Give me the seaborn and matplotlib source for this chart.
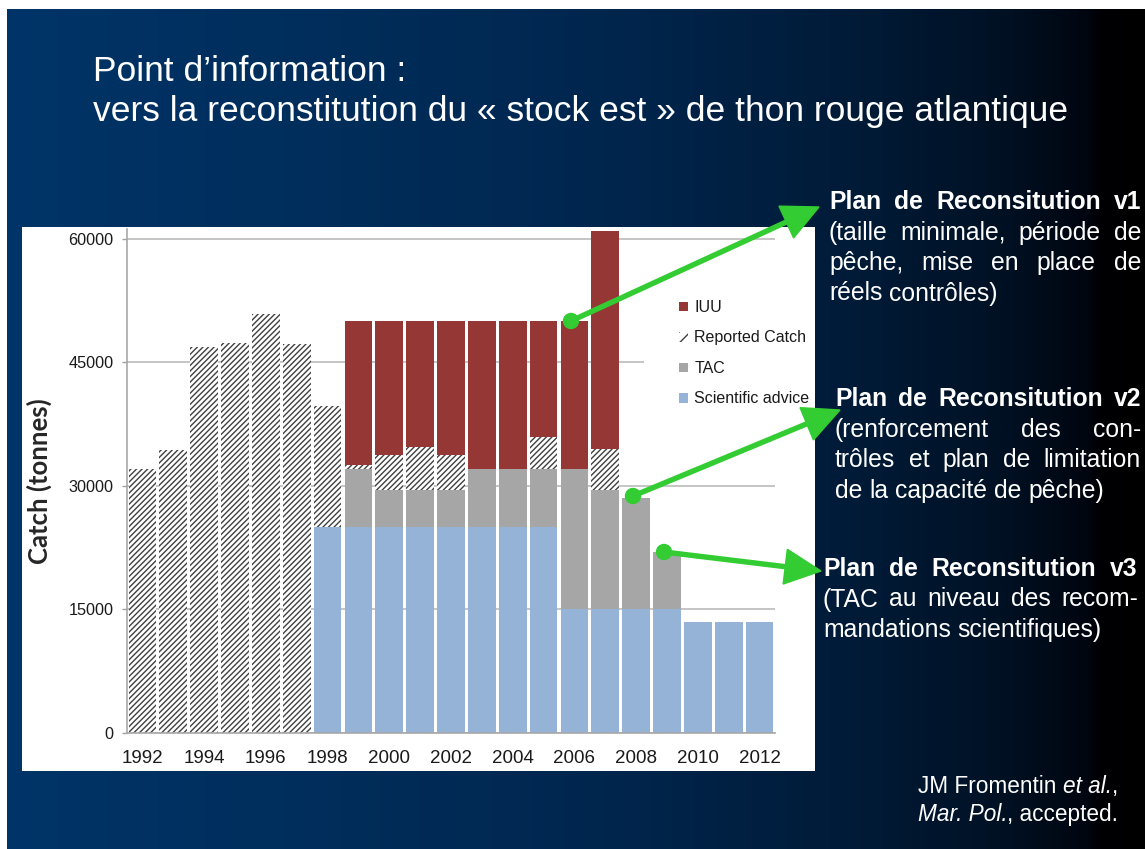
import numpy as np
import pandas as pd
import matplotlib
matplotlib.use("Agg")
import matplotlib.pyplot as plt
import seaborn as sns
from matplotlib.patches import Patch, Rectangle, Circle, Polygon

# ---- data (tonnes) ----
nan = np.nan
years = list(range(1992, 2013))
# top of each coloured layer; layers are drawn tallest first so they stack visually
sci_advice = [nan] * 6 + [25000] * 8 + [15000] * 4 + [13500] * 3
tac = [nan] * 7 + [32000, 29500, 29500, 29500, 32000, 32000, 32000, 32000, 29500, 28500, 22000] + [nan] * 3
reported = [32000, 34400, 46900, 47300, 50900, 47200, 39700, 32500, 33800, 34700, 33800,
            nan, nan, 36000, nan, 34500, nan, nan, nan, nan, nan]
with_iuu = [nan] * 7 + [50000] * 8 + [61000] + [nan] * 5

legend_labels = ["IUU", "Reported Catch", "TAC", "Scientific advice"]

RED = "#953735"
GRAY = "#a6a6a6"
BLUE = "#95b3d7"
HATCH = "#404040"
GREEN = "#33cc33"

sns.set_style("white")
plt.rcParams["font.family"] = ["Liberation Sans", "DejaVu Sans"]
plt.rcParams["hatch.linewidth"] = 1.0

W, H = 1145, 849
fig = plt.figure(figsize=(W / 100, H / 100), dpi=100, facecolor="white")

# ---- slide background: horizontal blue -> black gradient, white chart box ----
bg = fig.add_axes([0, 0, 1, 1], zorder=-10)
stops_x = [0, 300, 600, 850, 1000, 1085, 1100, 1145]
stops_c = np.array([[0, 52, 104], [0, 46, 92], [0, 38, 78], [0, 27, 56],
                    [0, 17, 36], [0, 6, 16], [0, 0, 4], [0, 0, 0]]) / 255
xs = np.arange(W)
grad = np.stack([np.interp(xs, stops_x, stops_c[:, k]) for k in range(3)], axis=-1)
bg.imshow(grad[None, :, :], extent=[7, W, H, 9], aspect="auto", interpolation="bilinear")
bg.add_patch(Rectangle((22, 227), 793, 544, facecolor="white", edgecolor="none"))
bg.set_xlim(0, W)
bg.set_ylim(H, 0)
bg.axis("off")

# ---- chart ----
ax = fig.add_axes([127 / W, 1 - 733 / H, 648 / W, (733 - 229) / H])
df = pd.DataFrame({"year": [str(y) for y in years], "iuu": with_iuu, "rep": reported,
                   "tac": tac, "sci": sci_advice})
order = df["year"].tolist()

layers = [("iuu", RED, None), ("rep", "white", "//////"), ("tac", GRAY, None), ("sci", BLUE, None)]
for col, colr, hatch in layers:
    n0 = len(ax.patches)
    sns.barplot(data=df, x="year", y=col, order=order, ax=ax, color=colr, width=0.9,
                errorbar=None, saturation=1, linewidth=0)
    for p in ax.patches[n0:]:
        p.set_linewidth(0)
        p.set_clip_on(False)
        if hatch:
            p.set_edgecolor(HATCH)
            p.set_hatch(hatch)

ax.set_xlim(-0.5, 20.5)
ax.set_ylim(0, 61200)
ax.set_yticks([0, 15000, 30000, 45000, 60000])
ax.set_yticklabels(["0", "15000", "30000", "45000", "60000"])
ax.set_xticks(np.arange(-0.5, 21, 1))
ax.set_xticklabels([])
ax.set_xticks(np.arange(0, 21, 2), labels=[str(y) for y in years[::2]], minor=True)
ax.tick_params(axis="x", which="major", length=3.6, width=1, color="#a0a0a0", direction="out")
ax.tick_params(axis="x", which="minor", length=0, pad=12, labelsize=13.5, labelcolor="#1a1a1a")
ax.tick_params(axis="y", length=3.6, width=1, color="#a0a0a0", pad=6, labelsize=11.7,
               labelcolor="#1a1a1a", left=True)
ax.yaxis.grid(True, color="#c0c0c0", linewidth=1.3)
ax.set_axisbelow(True)
sns.despine(ax=ax, top=True, right=True)
for s in ("left", "bottom"):
    ax.spines[s].set_color("#a8a8a8")
    ax.spines[s].set_linewidth(1.2)
ax.set_xlabel("")
ax.set_ylabel("Catch (tonnes)", fontsize=18.5, fontweight="bold", family=["Lato", "DejaVu Sans"])
ax.yaxis.set_label_coords((39 - 127) / 648, 0.5)
ax.yaxis.label.set_va("center")

# white area behind the legend that interrupts the 45000 gridline
ax.add_patch(Rectangle(((644 - 127) / 648, (733 - 385) / 504), 0.21, 0.09,
                       transform=ax.transAxes, facecolor="white", edgecolor="none", zorder=0.8))

handles = [Patch(facecolor=RED, linewidth=0),
           Patch(facecolor="white", edgecolor=HATCH, hatch="///", linewidth=0),
           Patch(facecolor=GRAY, linewidth=0),
           Patch(facecolor=BLUE, linewidth=0)]
ax.legend(handles, legend_labels, loc="upper left", bbox_to_anchor=(679 / W, 1 - 300 / H),
          bbox_transform=fig.transFigure, frameon=False, borderpad=0, borderaxespad=0,
          fontsize=11.5, handlelength=0.55, handleheight=0.55, handletextpad=0.4,
          labelspacing=0.97, labelcolor="#1a1a1a")

# ---- overlay for slide text and arrows (pixel coordinates) ----
ov = fig.add_axes([0, 0, 1, 1], zorder=10)
ov.set_xlim(0, W)
ov.set_ylim(H, 0)
ov.axis("off")
ov.patch.set_alpha(0)

ov.text(93, 81, "Point d\u2019information :", color="white", fontsize=25.5, va="baseline")
ov.text(93, 121, "vers la reconstitution du \u00ab stock est \u00bb de thon rouge atlantique",
        color="white", fontsize=25.5, va="baseline")

renderer = fig.canvas.get_renderer()


def put_line(text, x0, x1, y, justify, **font):
    words = text.split(" ")
    arts = [ov.text(0, y, w, va="baseline", ha="left", color="white", **font) for w in words]
    widths = [a.get_window_extent(renderer).width for a in arts]
    size = font.get("fontsize", 17.8)
    if justify and len(words) > 1:
        gap = (x1 - x0 - sum(widths)) / (len(words) - 1)
    else:
        gap = size * 100 / 72 * 0.278
    x = x0
    for a, w in zip(arts, widths):
        a.set_x(x)
        x += w + gap


def paragraph(lines, x0, x1, y0, step=30.5):
    for i, (txt, bold, just) in enumerate(lines):
        put_line(txt, x0, x1, y0 + i * step, just, fontsize=17.8,
                 fontweight="bold" if bold else "normal")


paragraph([("Plan de Reconsitution v1", True, True),
           ("(taille minimale, p\u00e9riode de", False, True),
           ("p\u00eache, mise en place de", False, True),
           ("r\u00e9els contr\u00f4les)", False, False)], 829, 1141, 209)
paragraph([("Plan de Reconsitution v2", True, True),
           ("(renforcement des con-", False, True),
           ("tr\u00f4les et plan de limitation", False, True),
           ("de la capacit\u00e9 de p\u00eache)", False, False)], 835, 1141, 406)
paragraph([("Plan de Reconsitution v3", True, True),
           ("(TAC au niveau des recom-", False, True),
           ("mandations scientifiques)", False, False)], 823, 1138, 576)


def runs(parts, x_right, y, size=16.3):
    arts = [ov.text(0, y, t, va="baseline", ha="left", color="white", fontsize=size, style=st)
            for t, st in parts]
    widths = [a.get_window_extent(renderer).width for a in arts]
    x = x_right - sum(widths)
    for a, w in zip(arts, widths):
        a.set_x(x)
        x += w


runs([("JM Fromentin ", "normal"), ("et al.", "italic"), (",", "normal")], 1118, 793)
runs([("Mar. Pol.", "italic"), (", accepted.", "normal")], 1118, 821)


def green_arrow(x0, y0, x1, y1, head_len=36, head_w=35):
    p0, p1 = np.array([x0, y0], float), np.array([x1, y1], float)
    u = (p1 - p0) / np.linalg.norm(p1 - p0)
    n = np.array([-u[1], u[0]])
    base = p1 - u * head_len
    ov.plot([p0[0], base[0] + u[0]], [p0[1], base[1] + u[1]], color=GREEN, lw=3.9,
            solid_capstyle="butt")
    ov.add_patch(Polygon([p1, base + n * head_w / 2, base - n * head_w / 2], color=GREEN))
    ov.add_patch(Circle(p0, 7.5, color=GREEN))


green_arrow(571, 321, 819, 207)
green_arrow(633, 496, 840, 410)
green_arrow(664, 552, 821, 571)

fig.savefig("out.png", dpi=100)
